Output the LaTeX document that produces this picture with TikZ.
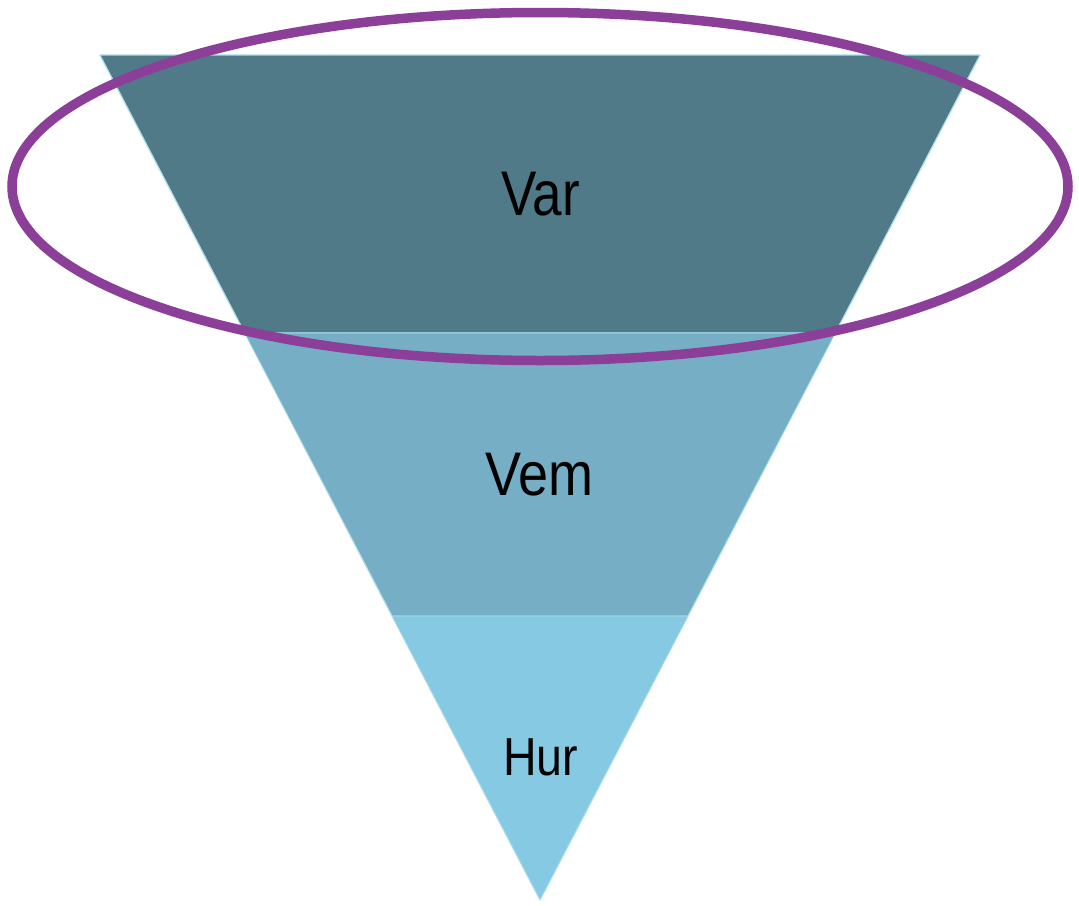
\documentclass[tikz,border=0pt]{standalone}
\usepackage{fontspec}
\setmainfont{Liberation Sans}
\definecolor{bandA}{HTML}{517A89}
\definecolor{bandB}{HTML}{75AEC5}
\definecolor{bandC}{HTML}{86C9E3}
\definecolor{ringcol}{HTML}{8C3F98}
\definecolor{glow}{HTML}{A8DCEE}
\tikzset{
  band/.style={draw=glow, line width=1.2pt, line join=round},
  lbl/.style={anchor=base, inner sep=0pt, text=black},
  ring/.style={draw=ringcol, line width=9.5pt}
}
\begin{document}
\begin{tikzpicture}[x=1pt,y=-1pt]
\useasboundingbox (0,0) rectangle (1079,905);
\fill[white] (0,0) rectangle (1079,905);
% bands of the funnel
\filldraw[band, fill=bandA] (100,55) -- (980,55) -- (835.2,333) -- (244.8,333) -- cycle;
\filldraw[band, fill=bandB] (244.8,333) -- (835.2,333) -- (687.9,616) -- (392.1,616) -- cycle;
\filldraw[band, fill=bandC] (392.1,616) -- (687.9,616) -- (540,900) -- cycle;
\fill[bandA] (102,56.5) -- (978,56.5) -- (834.5,332.2) -- (245.5,332.2) -- cycle;
\fill[bandB] (245.5,333.6) -- (834.5,333.6) -- (687.2,615.4) -- (392.8,615.4) -- cycle;
\fill[bandC] (392.8,616.6) -- (687.2,616.6) -- (540,898) -- cycle;
% labels
\node[lbl, font=\fontsize{53}{60}\selectfont] (var) at (540.5,215) {\scalebox{1}[1.19]{Var}};
\node[lbl, font=\fontsize{54}{60}\selectfont] (vem) at (539.5,495) {\scalebox{1}[1.14]{Vem}};
\node[lbl, font=\fontsize{46.5}{52}\selectfont] (hur) at (540.5,775) {\scalebox{1}[1.15]{Hur}};
% highlight ring
\draw[ring] (540,186.5) ellipse [x radius=528, y radius=174];
\end{tikzpicture}
\end{document}
